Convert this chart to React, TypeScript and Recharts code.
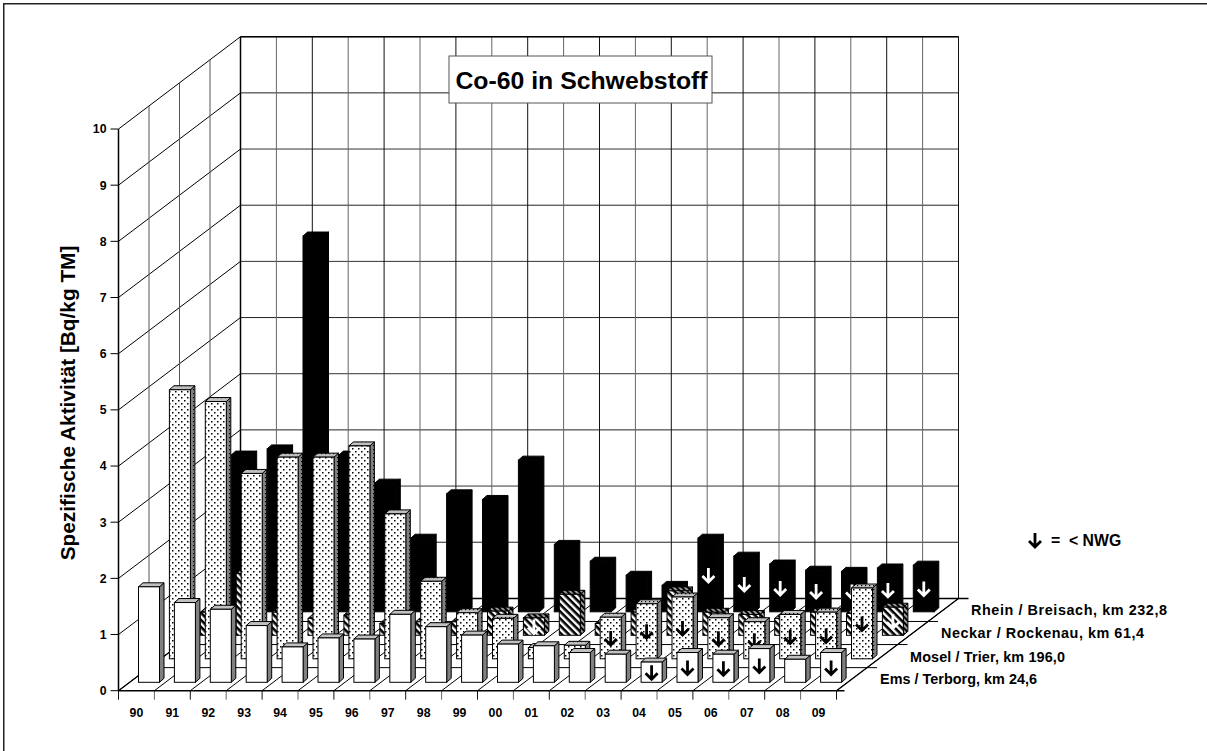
import React from "react";
import { BarChart, Bar, XAxis, YAxis, Customized } from "recharts";

const years = ["90","91","92","93","94","95","96","97","98","99","00","01","02","03","04","05","06","07","08","09"];
const rhein = [2.79,2.9,6.69,2.79,2.29,1.31,2.1,2.0,2.7,1.2,0.9,0.65,0.47,1.31,0.99,0.85,0.74,0.72,0.78,0.83];
const neckar = [0.41,1.1,0.41,0.3,0.36,0.21,0.24,0.24,0.43,0.31,0.73,0.21,0.41,0.79,0.41,0.37,0.3,0.41,0.39,0.5];
const mosel = [4.79,4.58,3.3,3.59,3.59,3.79,2.58,1.38,0.82,0.72,0.2,0.24,0.74,0.98,1.1,0.73,0.66,0.79,0.83,1.26];
const ems = [1.7,1.42,1.3,1.01,0.63,0.79,0.77,1.21,0.99,0.84,0.68,0.65,0.53,0.5,0.36,0.53,0.5,0.6,0.41,0.53];
const rheinBelow = [13,14,15,16,17,18,19];
const neckarBelow = [9,19];
const moselBelow = [12,13,14,15,16,17,18,19];
const emsBelow = [14,15,16,17,19];
const seriesLabels = ["Ems / Terborg, km 24,6","Mosel / Trier, km 196,0","Neckar / Rockenau, km 61,4","Rhein / Breisach, km 232,8"];
const yTicks = [0,1,2,3,4,5,6,7,8,9,10];

const data = years.map((year, i) => ({ year, rhein: rhein[i], neckar: neckar[i], mosel: mosel[i], ems: ems[i] }));

const FONT = "'Liberation Sans', Arial, sans-serif";
const W = 1207, H = 751;
const L = 118.5, R = 836.5, T = 129, B = 690.7;
const DX = 122, DY = -92.3;
const BAR_W = 21;
const DEPTH_X = 4.5, DEPTH_Y = 4;
const STEP_X = 30.9, STEP_Y = 23.5;
const FRONT_X = 13, FRONT_Y = 8.4;

function Arrow({ cx, cy, color }: any) {
  const h = 7, w = 6;
  return (
    <path d={`M${cx} ${cy - h}V${cy + h - 1}M${cx - w} ${cy + h - w}L${cx} ${cy + h}L${cx + w} ${cy + h - w}`}
      fill="none" stroke={color} strokeWidth={2.8} />
  );
}

function makeShape(depth: number, front: string, side: string, cap: string, stroke: string, below: number[], arrowColor: string) {
  return (p: any) => {
    const { x, y, width, height, index } = p;
    const ox = x + (FRONT_X + depth * STEP_X);
    const oy = y - (FRONT_Y + depth * STEP_Y);
    const x0 = ox, x1 = ox + width, y0 = oy, y1 = oy + height;
    return (
      <g>
        <path d={`M${x1} ${y0}L${x1 + DEPTH_X} ${y0 - DEPTH_Y}V${y1 - DEPTH_Y}L${x1} ${y1}Z`} fill={side} stroke={stroke} strokeWidth={1} />
        <path d={`M${x0} ${y0}L${x0 + DEPTH_X} ${y0 - DEPTH_Y}H${x1 + DEPTH_X}L${x1} ${y0}Z`} fill={cap} stroke={stroke} strokeWidth={1} />
        <rect x={x0} y={y0} width={width} height={height} fill={front} stroke={stroke} strokeWidth={1} />
        {below.includes(index) ? <Arrow cx={x0 + width / 2} cy={y0 + height / 2} color={arrowColor} /> : null}
      </g>
    );
  };
}

const rheinShape = makeShape(3, "#000", "#000", "#000", "#000", rheinBelow, "#fff");
const neckarShape = makeShape(2, "url(#hatch)", "url(#hatchDark)", "url(#hatchDark)", "#000", neckarBelow, "#fff");
const moselShape = makeShape(1, "url(#dots)", "url(#dotsDark)", "url(#dotsCap)", "#000", moselBelow, "#000");
const emsShape = makeShape(0, "#fff", "#808080", "#c0c0c0", "#000", emsBelow, "#000");

function Walls() {
  const yOf = (v: number) => B - (v / 10) * (B - T);
  const cell = (R - L) / years.length;
  const lines: React.ReactNode[] = [];
  const ln = (k: string, x1: number, y1: number, x2: number, y2: number, sw = 1, c = "#000") =>
    lines.push(<line key={k} x1={x1} y1={y1} x2={x2} y2={y2} stroke={c} strokeWidth={sw} />);
  yTicks.forEach((v) => {
    const y = yOf(v);
    if (v > 0) {
      ln(`wall${v}`, L, y, L + DX, y + DY);
      ln(`back${v}`, L + DX, y + DY, R + DX, y + DY, 1, v % 2 ? "#222" : "#333");
    }
  });
  for (let i = 0; i <= years.length; i++) {
    const x = L + i * cell;
    if (i > 0) {
      ln(`bv${i}`, x + DX, T + DY, x + DX, B + DY, 1, i % 2 ? "#666" : "#111");
    }
    ln(`fl${i}`, x, B, x + DX, B + DY);
    ln(`tick${i}`, x, B, x, B + 9, 1, i % 2 ? "#666" : "#111");
  }
  for (let d = 1; d < 4; d++) {
    const f = d / 4;
    ln(`sv${d}`, L + DX * f, B + DY * f, L + DX * f, T + DY * f, 1, "#555");
    ln(`sh${d}`, L + DX * f, B + DY * f, R + DX * f, B + DY * f);
    ln(`ext${d}`, R + DX * f, B + DY * f, R + DX * f + 10, B + DY * f);
  }
  ln("backLeft", L + DX, T + DY, L + DX, B + DY, 1.5);
  ln("backTop", L + DX, T + DY, R + DX, T + DY, 1.5);
  ln("backBottom", L + DX, B + DY, R + DX + 10, B + DY, 1.5);
  ln("front", L, B, R + 8, B, 1.5);
  ln("rightFloor", R, B, R + DX, B + DY, 1.2);
  ln("leftFloor", L, B, L + DX, B + DY, 1.2);
  return <g>{lines}</g>;
}

function Overlay() {
  const txt: any = { fontFamily: FONT, fontWeight: 700, fill: "#000" };
  const labelX = [880, 910, 941, 971];
  const labelY = [684, 662, 638, 615];
  const labelLen = [157, 155, 203, 196];
  return (
    <g>
      <rect x={449} y={56} width={263} height={47} fill="#fff" stroke="#555" strokeWidth={1} />
      <text x={581.5} y={89} textAnchor="middle" {...txt} fontSize={24.8}>Co-60 in Schwebstoff</text>
      {seriesLabels.map((s, i) => (
        <text key={s} x={labelX[i]} y={labelY[i]} {...txt} fontSize={14.4} textLength={labelLen[i]} lengthAdjust="spacing">{s}</text>
      ))}
      <Arrow cx={1035} cy={540} color="#000" />
      <text x={1051} y={546} {...txt} fontSize={15.8} style={{ whiteSpace: "pre" }}>{"=  < NWG"}</text>
      <text transform="translate(75 403) rotate(-90)" textAnchor="middle" {...txt} fontSize={20.8}>Spezifische Aktivität [Bq/kg TM]</text>
    </g>
  );
}

function XTick({ x, y, payload }: any) {
  return <text x={x} y={y + 18} textAnchor="middle" fontFamily={FONT} fontWeight={700} fontSize={12.3} fill="#000">{payload.value}</text>;
}

export default function App() {
  return (
    <div style={{ position: "absolute", left: 0, top: 0, width: W, height: H, background: "#fff" }}>
      <BarChart width={W} height={H} data={data} barSize={BAR_W} barGap={-BAR_W}
        margin={{ left: 0, right: W - R, top: T, bottom: 0 }} style={{ position: "absolute" }}>
        <defs>
          <pattern id="dots" width="6" height="6" patternUnits="userSpaceOnUse">
            <rect width="6" height="6" fill="#fff" />
            <rect x="1" y="1" width="1.5" height="1.5" fill="#000" />
            <rect x="4" y="4" width="1.5" height="1.5" fill="#000" />
          </pattern>
          <pattern id="dotsDark" width="4" height="4" patternUnits="userSpaceOnUse">
            <rect width="4" height="4" fill="#808080" />
            <rect x="1" y="1" width="1.2" height="1.2" fill="#000" />
          </pattern>
          <pattern id="dotsCap" width="4" height="4" patternUnits="userSpaceOnUse">
            <rect width="4" height="4" fill="#c0c0c0" />
            <rect x="1" y="1" width="1.2" height="1.2" fill="#000" />
          </pattern>
          <pattern id="hatch" width="5" height="5" patternUnits="userSpaceOnUse" patternTransform="rotate(45)">
            <rect width="5" height="5" fill="#fff" />
            <rect width="5" height="2.6" fill="#000" />
          </pattern>
          <pattern id="hatchDark" width="4" height="4" patternUnits="userSpaceOnUse" patternTransform="rotate(45)">
            <rect width="4" height="4" fill="#999" />
            <rect width="4" height="2" fill="#000" />
          </pattern>
        </defs>
        <rect x={3.5} y={3} width={W} height={1.5} fill="#222" />
        <rect x={3} y={3} width={1.5} height={H} fill="#222" />
        <Customized component={<Walls />} />
        <XAxis dataKey="year" interval={0} tick={<XTick />} tickLine={false} axisLine={false} height={H - B} />
        <YAxis domain={[0, 10]} ticks={yTicks} interval={0} width={L}
          axisLine={{ stroke: "#000", strokeWidth: 1.5 }} tickLine={{ stroke: "#000" }} tickSize={8} tickMargin={4}
          tick={{ fontFamily: FONT, fontWeight: 700, fontSize: 12.3, fill: "#000" }} />
        <Bar dataKey="rhein" shape={rheinShape} isAnimationActive={false} />
        <Bar dataKey="neckar" shape={neckarShape} isAnimationActive={false} />
        <Bar dataKey="mosel" shape={moselShape} isAnimationActive={false} />
        <Bar dataKey="ems" shape={emsShape} isAnimationActive={false} />
        <Customized component={<Overlay />} />
      </BarChart>
    </div>
  );
}
